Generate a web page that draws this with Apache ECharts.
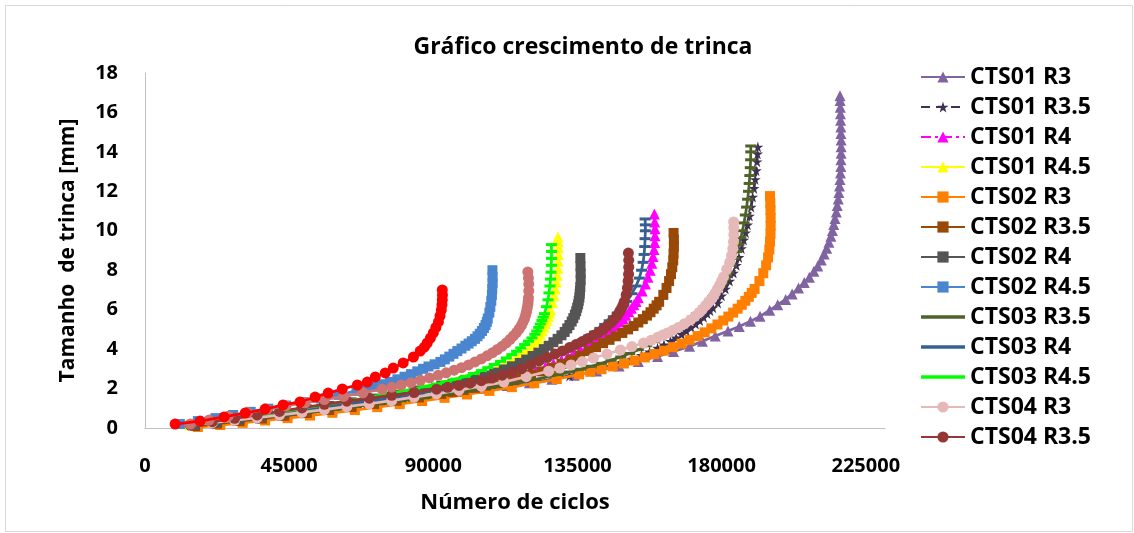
<!DOCTYPE html>
<html>
<head>
<meta charset="utf-8">
<script src="https://cdn.jsdelivr.net/npm/echarts@6/dist/echarts.min.js"></script>
<style>
  html, body { margin: 0; padding: 0; background: #ffffff; }
  #chart { width: 1134px; height: 533px; }
</style>
</head>
<body>
<div id="chart"></div>
<script>
// Crack length a [mm] versus number of cycles N, one [N, a] list per specimen/ratio.
const CTS01_R3 = [[15000,0.2],[22000,0.29],[29000,0.4],[36000,0.51],[43000,0.63],[50000,0.77],[57000,0.94],[64000,1.11],[71000,1.27],[78000,1.41],[85000,1.55],[92000,1.7],[99000,1.85],[106000,2.01],[113000,2.15],[120000,2.3],[127000,2.47],[134000,2.68],[141000,2.89],[148000,3.15],[154000,3.37],[160000,3.63],[165000,3.88],[170000,4.14],[174000,4.4],[178000,4.66],[182000,4.92],[185500,5.15],[189000,5.41],[192000,5.66],[195000,5.97],[197500,6.25],[200000,6.52],[202000,6.8],[204000,7.1],[205800,7.38],[207400,7.65],[208800,7.95],[210000,8.22],[211100,8.52],[212000,8.82],[212800,9.12],[213500,9.42],[214100,9.72],[214600,10.02],[215000,10.32],[215400,10.62],[215800,10.95],[216100,11.28],[216400,11.61],[216600,11.94],[216800,12.27],[216950,12.6],[217100,12.93],[217200,13.26],[217250,13.6],[217300,13.93],[217300,14.26],[217300,14.6],[217250,14.93],[217200,15.26],[217150,15.6],[217100,15.93],[217050,16.26],[217000,16.6],[216950,16.85]];
const CTS01_R3_5 = [[17000,0.2],[24000,0.3],[31000,0.42],[38000,0.54],[45000,0.66],[52000,0.78],[59000,0.9],[66000,1.03],[73000,1.16],[80000,1.3],[87000,1.44],[94000,1.6],[101000,1.76],[108000,1.92],[115000,2.1],[122000,2.3],[129000,2.52],[132500,2.64],[136000,2.76],[139500,2.9],[143000,3.05],[146000,3.19],[149000,3.33],[152000,3.5],[155000,3.68],[157500,3.86],[160000,4.05],[162000,4.22],[164000,4.4],[165800,4.57],[167500,4.75],[169000,4.92],[170500,5.1],[171900,5.27],[173200,5.45],[174400,5.62],[175500,5.8],[176400,5.95],[177300,6.1],[178800,6.34],[180000,6.7],[181200,7.05],[182500,7.45],[183700,7.86],[184600,8.25],[185400,8.65],[186200,9.1],[186900,9.53],[187500,9.9],[188100,10.3],[188700,10.75],[189200,11.2],[189700,11.71],[190100,12.15],[190500,12.6],[190800,13.05],[191050,13.5],[191200,13.9],[191300,14.25]];
const CTS01_R4 = [[15600,0.15],[22000,0.27],[29000,0.4],[36000,0.53],[43000,0.66],[50000,0.8],[57000,0.95],[64000,1.1],[71000,1.26],[78000,1.43],[85000,1.6],[92000,1.78],[95500,1.88],[99000,1.98],[102500,2.09],[106000,2.2],[109500,2.32],[113000,2.45],[116000,2.6],[119000,2.75],[122000,2.92],[125000,3.1],[127500,3.27],[130000,3.45],[132000,3.62],[134000,3.8],[136000,3.97],[138000,4.15],[139800,4.32],[141500,4.5],[143000,4.67],[144400,4.85],[145700,5.02],[147000,5.2],[148100,5.37],[149200,5.55],[150100,5.72],[151000,5.9],[151800,6.07],[152600,6.25],[153300,6.42],[154000,6.6],[155200,6.95],[156200,7.3],[157000,7.65],[157700,8.0],[158200,8.35],[158600,8.7],[158900,9.05],[159100,9.4],[159200,9.75],[159200,10.1],[159100,10.45],[159000,10.85]];
const CTS01_R4_5 = [[14000,0.15],[21000,0.3],[28000,0.46],[35000,0.62],[42000,0.78],[49000,0.95],[56000,1.12],[63000,1.3],[70000,1.48],[77000,1.67],[84000,1.88],[87500,1.99],[91000,2.1],[94000,2.21],[97000,2.33],[100000,2.46],[103000,2.6],[105500,2.75],[108000,2.9],[110000,3.05],[112000,3.2],[113800,3.35],[115500,3.5],[117000,3.67],[118500,3.85],[119800,4.02],[121000,4.2],[122000,4.37],[122800,4.55],[123500,4.75],[124000,4.95],[124500,5.12],[125000,5.3],[125500,5.47],[125900,5.65],[126300,5.82],[126600,5.98],[127200,6.35],[127700,6.7],[128100,7.05],[128400,7.4],[128700,7.75],[128900,8.1],[129000,8.45],[129050,8.8],[129050,9.15],[129000,9.45],[128900,9.69]];
const CTS02_R3 = [[16500,0.05],[23500,0.15],[30500,0.26],[37500,0.38],[44500,0.5],[51500,0.63],[58500,0.77],[65500,0.91],[72500,1.06],[79500,1.21],[86500,1.37],[93500,1.53],[100500,1.7],[107500,1.88],[114500,2.07],[121500,2.27],[128500,2.48],[135500,2.72],[139000,2.85],[142500,2.98],[146000,3.12],[149500,3.27],[152800,3.42],[156000,3.58],[159000,3.75],[162000,3.92],[164800,4.1],[167500,4.28],[170000,4.47],[172500,4.66],[174700,4.85],[176800,5.05],[178700,5.25],[180500,5.45],[182100,5.65],[183600,5.85],[185000,6.05],[186300,6.25],[187400,6.45],[188500,6.65],[189400,6.85],[190300,7.05],[191800,7.45],[193000,7.85],[193900,8.25],[194500,8.65],[194900,9.05],[195100,9.45],[195250,9.85],[195300,10.25],[195300,10.65],[195250,11.05],[195200,11.4],[195100,11.76]];
const CTS02_R3_5 = [[15600,0.1],[22500,0.22],[29500,0.35],[36500,0.48],[43500,0.62],[50500,0.76],[57500,0.91],[64500,1.06],[71500,1.22],[78500,1.38],[85500,1.55],[92500,1.73],[96000,1.83],[99500,1.93],[103000,2.04],[106500,2.15],[110000,2.27],[113500,2.4],[117000,2.55],[120500,2.7],[123800,2.87],[127000,3.05],[130000,3.25],[133000,3.45],[135800,3.67],[138500,3.9],[140800,4.1],[143000,4.3],[145000,4.47],[147000,4.65],[149000,4.82],[150800,5.0],[152500,5.17],[154000,5.35],[155400,5.52],[156700,5.7],[157800,5.87],[158800,6.05],[159700,6.22],[160500,6.4],[161800,6.75],[162800,7.1],[163600,7.45],[164200,7.8],[164600,8.15],[164900,8.5],[165000,8.85],[165100,9.2],[165100,9.55],[165000,9.89]];
const CTS02_R4 = [[15600,0.15],[22500,0.3],[29500,0.46],[36500,0.62],[43500,0.78],[50500,0.95],[57500,1.12],[64500,1.3],[71500,1.49],[78500,1.69],[85500,1.9],[92500,2.13],[96000,2.25],[99500,2.38],[102800,2.52],[106000,2.66],[109000,2.81],[112000,2.97],[114500,3.13],[117000,3.3],[119000,3.47],[121000,3.65],[122800,3.82],[124500,4.0],[126000,4.17],[127500,4.35],[128800,4.52],[130000,4.7],[131000,4.87],[131800,5.05],[132500,5.22],[133200,5.4],[133700,5.57],[134200,5.75],[134600,5.92],[134900,6.1],[135200,6.27],[135400,6.45],[135600,6.62],[135700,6.8],[135800,6.97],[135900,7.15],[136000,7.5],[136000,7.85],[135950,8.2],[135900,8.62]];
const CTS02_R4_5 = [[10900,0.2],[16500,0.35],[22000,0.5],[27500,0.66],[33000,0.82],[38500,0.98],[44000,1.14],[49500,1.31],[55000,1.49],[60500,1.68],[66000,1.88],[68800,1.99],[71500,2.1],[74000,2.22],[76500,2.34],[78800,2.47],[81000,2.6],[83000,2.73],[85000,2.87],[86800,3.0],[88500,3.12],[90400,3.23],[92200,3.35],[93600,3.48],[95000,3.62],[96300,3.76],[97500,3.9],[98800,4.03],[100000,4.17],[101000,4.28],[102000,4.4],[103000,4.52],[103800,4.65],[104500,4.78],[105200,4.92],[105800,5.07],[106300,5.22],[106700,5.38],[107000,5.55],[107500,5.85],[107800,6.14],[108100,6.45],[108300,6.75],[108400,7.05],[108500,7.35],[108500,7.65],[108450,8.0]];
const CTS03_R3_5 = [[17000,0.2],[24000,0.31],[31000,0.43],[38000,0.56],[45000,0.69],[52000,0.82],[59000,0.95],[66000,1.09],[73000,1.23],[80000,1.38],[87000,1.53],[94000,1.7],[101000,1.87],[108000,2.05],[115000,2.25],[122000,2.47],[129000,2.71],[132500,2.84],[136000,2.98],[139300,3.13],[142500,3.28],[145500,3.44],[148500,3.6],[151300,3.78],[154000,3.97],[156500,4.17],[159000,4.38],[161000,4.56],[163000,4.75],[164800,4.92],[166500,5.1],[168000,5.27],[169500,5.45],[170900,5.62],[172200,5.8],[173400,5.97],[174500,6.15],[175500,6.32],[176400,6.5],[177300,6.67],[178100,6.85],[178900,7.02],[179600,7.2],[180300,7.37],[180900,7.55],[181500,7.72],[182000,7.9],[183000,8.25],[183900,8.6],[184700,8.95],[185400,9.3],[186000,9.65],[186500,10.0],[187000,10.4],[187400,10.8],[187800,11.2],[188100,11.6],[188400,12.0],[188600,12.4],[188800,12.8],[188950,13.2],[189050,13.6],[189100,14.0],[189100,14.3]];
const CTS03_R4 = [[14100,0.15],[21000,0.29],[28000,0.43],[35000,0.57],[42000,0.71],[49000,0.86],[56000,1.01],[63000,1.17],[70000,1.34],[77000,1.52],[84000,1.71],[91000,1.91],[94500,2.02],[98000,2.13],[101500,2.25],[105000,2.38],[108300,2.52],[111500,2.66],[114500,2.82],[117500,2.98],[120300,3.15],[123000,3.33],[125500,3.51],[128000,3.7],[130300,3.89],[132500,4.08],[134500,4.27],[136500,4.47],[138400,4.66],[140300,4.86],[142000,5.05],[143500,5.25],[144900,5.44],[146200,5.64],[147400,5.83],[148500,6.03],[149500,6.22],[150400,6.42],[152000,6.81],[153300,7.2],[154300,7.6],[155000,8.0],[155500,8.4],[155800,8.8],[156000,9.2],[156100,9.6],[156200,10.0],[156200,10.3],[156100,10.6]];
const CTS03_R4_5 = [[14000,0.15],[21000,0.3],[28000,0.47],[35000,0.64],[42000,0.81],[49000,0.99],[56000,1.17],[63000,1.36],[70000,1.56],[77000,1.77],[84000,1.99],[87500,2.11],[91000,2.23],[94000,2.35],[97000,2.48],[100000,2.62],[102500,2.76],[105000,2.91],[107000,3.06],[109000,3.22],[111000,3.38],[112800,3.55],[114500,3.72],[116000,3.89],[117300,4.06],[118500,4.23],[119700,4.4],[120800,4.57],[121700,4.75],[122300,4.92],[122900,5.1],[123400,5.27],[123900,5.45],[124300,5.62],[124700,5.8],[125300,6.15],[125800,6.5],[126100,6.85],[126400,7.2],[126600,7.55],[126750,7.9],[126850,8.25],[126900,8.6],[126900,8.95],[126850,9.3]];
const CTS04_R3 = [[14100,0.15],[21000,0.27],[28000,0.39],[35000,0.52],[42000,0.65],[49000,0.79],[56000,0.93],[63000,1.08],[70000,1.23],[77000,1.39],[84000,1.56],[91000,1.73],[98000,1.92],[105000,2.12],[112000,2.33],[119000,2.6],[126000,2.88],[129500,3.04],[133000,3.2],[136500,3.37],[140000,3.55],[144200,3.75],[148400,3.96],[152000,4.13],[155600,4.31],[158000,4.45],[160000,4.6],[161600,4.71],[163100,4.82],[164800,4.96],[166500,5.1],[168400,5.29],[170300,5.48],[171700,5.66],[173000,5.85],[174000,6.02],[175000,6.2],[175800,6.35],[176600,6.49],[177300,6.67],[178000,6.85],[178700,7.05],[179400,7.25],[180000,7.45],[180600,7.66],[181600,8.05],[182500,8.4],[183100,8.75],[183500,9.1],[183700,9.45],[183800,9.8],[183800,10.15],[183750,10.45]];
const CTS04_R3_5 = [[14100,0.15],[21000,0.32],[28000,0.49],[35000,0.66],[42000,0.84],[49000,1.02],[56000,1.2],[63000,1.36],[70000,1.51],[77000,1.66],[84000,1.8],[91000,1.97],[94500,2.06],[98000,2.16],[101500,2.27],[105000,2.4],[108300,2.53],[111500,2.68],[114500,2.83],[117500,3.0],[120300,3.2],[123000,3.4],[125500,3.57],[128000,3.75],[130300,3.91],[132500,4.08],[134500,4.23],[136500,4.38],[138300,4.54],[140000,4.7],[141600,4.85],[143000,5.0],[144300,5.17],[145500,5.35],[146500,5.52],[147400,5.7],[148100,5.87],[148700,6.05],[149200,6.22],[149600,6.4],[150200,6.75],[150600,7.1],[150800,7.45],[150950,7.8],[151000,8.15],[151000,8.5],[150900,8.87]];
const CTS04_R4 = [[14100,0.2],[20000,0.4],[26000,0.6],[32000,0.78],[38000,0.95],[44000,1.12],[50000,1.28],[56000,1.44],[62000,1.6],[68000,1.78],[74000,1.97],[77000,2.07],[80000,2.18],[83000,2.3],[86000,2.42],[88800,2.54],[91500,2.67],[94000,2.8],[96500,2.93],[98800,3.06],[101000,3.2],[103000,3.35],[105000,3.5],[106800,3.66],[108500,3.82],[110000,3.98],[111500,4.15],[112800,4.32],[114000,4.5],[115000,4.67],[116000,4.85],[116800,5.02],[117500,5.2],[118000,5.37],[118500,5.55],[118800,5.72],[119100,5.9],[119300,6.07],[119500,6.25],[119600,6.42],[119700,6.6],[119800,6.95],[119800,7.3],[119700,7.6],[119500,7.91]];
const CTS04_R4_5 = [[9400,0.2],[17200,0.35],[24700,0.56],[31300,0.76],[37500,0.96],[43100,1.17],[48400,1.32],[53100,1.57],[57200,1.77],[61600,1.98],[66300,2.18],[69400,2.33],[71900,2.59],[75000,2.79],[77500,3.04],[80600,3.3],[83800,3.6],[85900,3.9],[87200,4.1],[88100,4.31],[89100,4.56],[90000,4.82],[90800,5.1],[91600,5.38],[92100,5.68],[92500,5.98],[92700,6.25],[92800,6.49],[92850,6.75],[92800,7.0]];

// Axis ticks; the cycle axis runs a little past its last labelled tick
const X_TICKS = [0, 45000, 90000, 135000, 180000, 225000];
const X_MAX = 231000;
const Y_TICKS = [0, 2, 4, 6, 8, 10, 12, 14, 16, 18];

const FONT = "'Open Sans', 'DejaVu Sans', sans-serif";
const STAR = 'path://M50,0 L61,35 L98,35 L68,57 L79,92 L50,70 L21,92 L32,57 L2,35 L39,35 Z';
const BAR_ICON = 'path://M0,0 H40 V3 H0 Z';

// name, data, colour, marker, marker size, line dash, in legend
const SERIES = [
  ['CTS01 R3',   CTS01_R3,   '#8064A2', 'triangle', 11, 'solid', true],
  ['CTS01 R3.5', CTS01_R3_5, '#3F3151', STAR,       11, [9, 6], true],
  ['CTS01 R4',   CTS01_R4,   '#FF00FF', 'triangle', 11, [10, 4, 3, 4], true],
  ['CTS01 R4.5', CTS01_R4_5, '#FFFF00', 'triangle', 11, 'solid', true],
  ['CTS02 R3',   CTS02_R3,   '#FF8000', 'rect',     10, 'solid', true],
  ['CTS02 R3.5', CTS02_R3_5, '#984807', 'rect',     10, 'solid', true],
  ['CTS02 R4',   CTS02_R4,   '#555555', 'rect',     10, 'solid', true],
  ['CTS02 R4.5', CTS02_R4_5, '#4A86D0', 'rect',     10, 'solid', true],
  ['CTS03 R3.5', CTS03_R3_5, '#4F6228', 'rect', [11, 3], 'solid', true],
  ['CTS03 R4',   CTS03_R4,   '#376092', 'rect', [11, 3], 'solid', true],
  ['CTS03 R4.5', CTS03_R4_5, '#00FF00', 'rect', [11, 3], 'solid', true],
  ['CTS04 R3',   CTS04_R3,   '#E6B9B8', 'circle',   11, 'solid', true],
  ['CTS04 R3.5', CTS04_R3_5, '#953735', 'circle',   11, 'solid', true],
  ['CTS04 R4',   CTS04_R4,   '#CD7371', 'circle',   11, 'solid', false],
  ['CTS04 R4.5', CTS04_R4_5, '#FF0000', 'circle',   11, 'solid', false]
];

const chart = echarts.init(document.getElementById('chart'), null, { renderer: 'canvas' });

const legendData = SERIES.filter(s => s[6]).map(s => {
  const item = { name: s[0] };
  if (Array.isArray(s[4])) item.icon = BAR_ICON;
  return item;
});

chart.setOption({
  animation: false,
  backgroundColor: '#ffffff',
  textStyle: { fontFamily: FONT },
  graphic: [{
    type: 'rect', left: 3, top: 3, silent: true,
    shape: { width: 1127, height: 526 },
    style: { fill: 'none', stroke: '#D9D9D9', lineWidth: 1 }
  }],
  title: {
    text: 'Gráfico crescimento de trinca',
    left: 578, top: 31, textAlign: 'center',
    textStyle: { fontFamily: FONT, fontWeight: 'bold', fontSize: 23, color: '#000000' }
  },
  grid: { left: 145, right: 249, top: 73, bottom: 105, containLabel: false },
  legend: {
    orient: 'vertical', left: 915, top: 60,
    itemWidth: 44, itemHeight: 14, itemGap: 6,
    data: legendData,
    textStyle: { fontFamily: FONT, fontWeight: 'bold', fontSize: 23, color: '#000000', lineHeight: 24 },
    selectedMode: false
  },
  xAxis: {
    type: 'value', min: X_TICKS[0], max: X_MAX, interval: X_TICKS[1] - X_TICKS[0],
    name: 'Número de ciclos', nameLocation: 'middle', nameGap: 64,
    nameTextStyle: { fontFamily: FONT, fontWeight: 'bold', fontSize: 22, color: '#000000' },
    axisLine: { show: true, lineStyle: { color: '#BFBFBF', width: 1 } },
    axisTick: { show: false },
    splitLine: { show: false },
    axisLabel: {
      margin: 28, fontFamily: FONT, fontWeight: 'bold', fontSize: 20, color: '#000000',
      showMaxLabel: false,
      formatter: v => (X_TICKS.indexOf(v) >= 0 ? String(v) : '')
    }
  },
  yAxis: {
    type: 'value', min: Y_TICKS[0], max: Y_TICKS[Y_TICKS.length - 1], interval: Y_TICKS[1] - Y_TICKS[0],
    name: 'Tamanho  de trinca [mm]', nameLocation: 'middle', nameGap: 66, nameRotate: 90,
    nameTextStyle: { fontFamily: FONT, fontWeight: 'bold', fontSize: 21, color: '#000000' },
    axisLine: { show: true, lineStyle: { color: '#BFBFBF', width: 1 } },
    axisTick: { show: false },
    splitLine: { show: false },
    axisLabel: { margin: 27, fontFamily: FONT, fontWeight: 'bold', fontSize: 20, color: '#000000' }
  },
  series: SERIES.map((s, i) => ({
    name: s[0],
    type: 'line',
    data: s[1],
    z: 2 + i,
    symbol: s[3],
    symbolSize: s[4],
    showSymbol: true,
    showAllSymbol: true,
    color: s[2],
    itemStyle: { color: s[2], borderWidth: 0 },
    lineStyle: { color: s[2], width: 2.75, type: s[5] },
    emphasis: { disabled: true }
  }))
});
</script>
</body>
</html>
